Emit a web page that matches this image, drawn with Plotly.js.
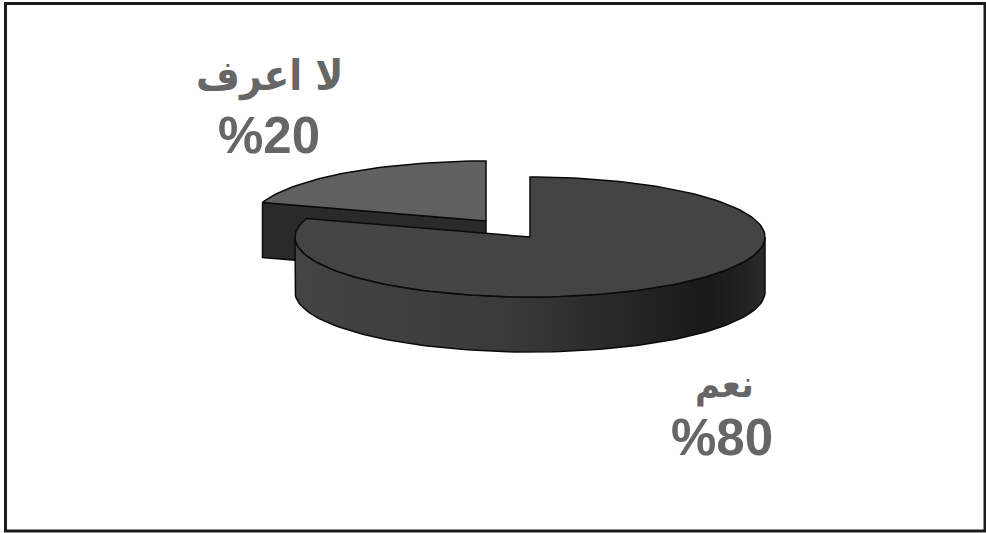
<!DOCTYPE html>
<html>
<head>
<meta charset="utf-8">
<script src="https://cdn.plot.ly/plotly-3.0.1.min.js"></script>
<style>html,body{margin:0;padding:0;background:#fff}#chart{width:986px;height:533px}</style>
</head>
<body>
<div id="chart"></div>
<script>
// Survey answers and their shares
const categories = ['نعم', 'لا اعرف'];
const shares = [80, 20];

// Tilted-disc geometry, in pixel-sized axis units
const RX = 235, RY = 60, DEPTH = 55;
const CENTER_YES = [530, 237];
const CENTER_DK = [486, 221];
const INK = '#0a0a0a';

// Point on the disc rim; angle is in percent of the pie, clockwise from 12 o'clock
function rim(c, pct, drop) {
  const a = pct / 100 * 2 * Math.PI;
  return [c[0] + RX * Math.sin(a), c[1] - RY * Math.cos(a) + (drop || 0)];
}
function arc(c, from, to, drop) {
  const out = [], n = Math.max(2, Math.ceil(Math.abs(to - from) * 2));
  for (let i = 0; i <= n; i++) out.push(rim(c, from + (to - from) * i / n, drop));
  return out;
}
function poly(points, fill, extra) {
  return Object.assign({
    type: 'scatter', mode: 'lines', hoverinfo: 'skip', showlegend: false,
    x: points.map(p => p[0]), y: points.map(p => p[1]),
    fill: 'toself', fillcolor: fill, line: {color: INK, width: 1.5, shape: 'linear'}
  }, extra || {});
}

const yesEnd = shares[0];
const dkEnd = shares[0] + shares[1];

// The smaller slice sits behind; the larger disc overlaps its cut face
const dkFace = poly([
  rim(CENTER_DK, yesEnd), CENTER_DK,
  [CENTER_DK[0], CENTER_DK[1] + DEPTH], rim(CENTER_DK, yesEnd, DEPTH), rim(CENTER_DK, yesEnd)
], '#2a2a2a');
const dkTop = poly([CENTER_DK].concat(arc(CENTER_DK, yesEnd, dkEnd), [CENTER_DK]), '#606060');

// Outer wall of the larger slice, from the right extreme round the front to the left extreme
const yesWall = poly(
  arc(CENTER_YES, 25, 75).concat(arc(CENTER_YES, 75, 25, DEPTH), [rim(CENTER_YES, 25)]),
  '#3a3a3a',
  {fillgradient: {type: 'horizontal', colorscale: [
    [0, '#444444'], [0.45, '#3a3a3a'], [0.7, '#262626'], [0.88, '#191919'], [0.96, '#222222'], [1, '#2a2a2a']
  ]}}
);
const yesTop = poly([CENTER_YES].concat(arc(CENTER_YES, 0, yesEnd), [CENTER_YES]), '#444444');

// Label anchors, one per category
const labelX = [724, 269];
const nameY = [384, 76];
const nameSize = [38, 42];
const pctY = [437, 135];
const GREY = '#666666';

const annotations = [];
categories.forEach((name, i) => {
  annotations.push({
    x: labelX[i], y: nameY[i], xref: 'x', yref: 'y', text: name, showarrow: false,
    xanchor: 'center', yanchor: 'middle',
    font: {family: 'DejaVu Sans Condensed, DejaVu Sans', size: nameSize[i], color: GREY, weight: 700}
  });
  annotations.push({
    x: labelX[i] - (i === 0 ? 2 : 0), y: pctY[i], xref: 'x', yref: 'y', text: '%' + shares[i], showarrow: false,
    xanchor: 'center', yanchor: 'middle',
    font: {family: 'Liberation Sans', size: 51, color: GREY, weight: 700}
  });
});

const layout = {
  width: 986, height: 533,
  margin: {l: 0, r: 0, t: 0, b: 0},
  paper_bgcolor: '#fff', plot_bgcolor: '#fff',
  showlegend: false,
  xaxis: {range: [0, 986], visible: false, fixedrange: true},
  yaxis: {range: [533, 0], visible: false, fixedrange: true},
  annotations: annotations,
  shapes: [{
    type: 'rect', xref: 'x', yref: 'y', x0: 5.5, y0: 3.5, x1: 985, y1: 531,
    line: {color: '#1c1c1c', width: 3}, fillcolor: 'rgba(0,0,0,0)'
  }]
};

Plotly.newPlot('chart', [dkFace, dkTop, yesWall, yesTop], layout, {displayModeBar: false, staticPlot: true});
</script>
</body>
</html>
